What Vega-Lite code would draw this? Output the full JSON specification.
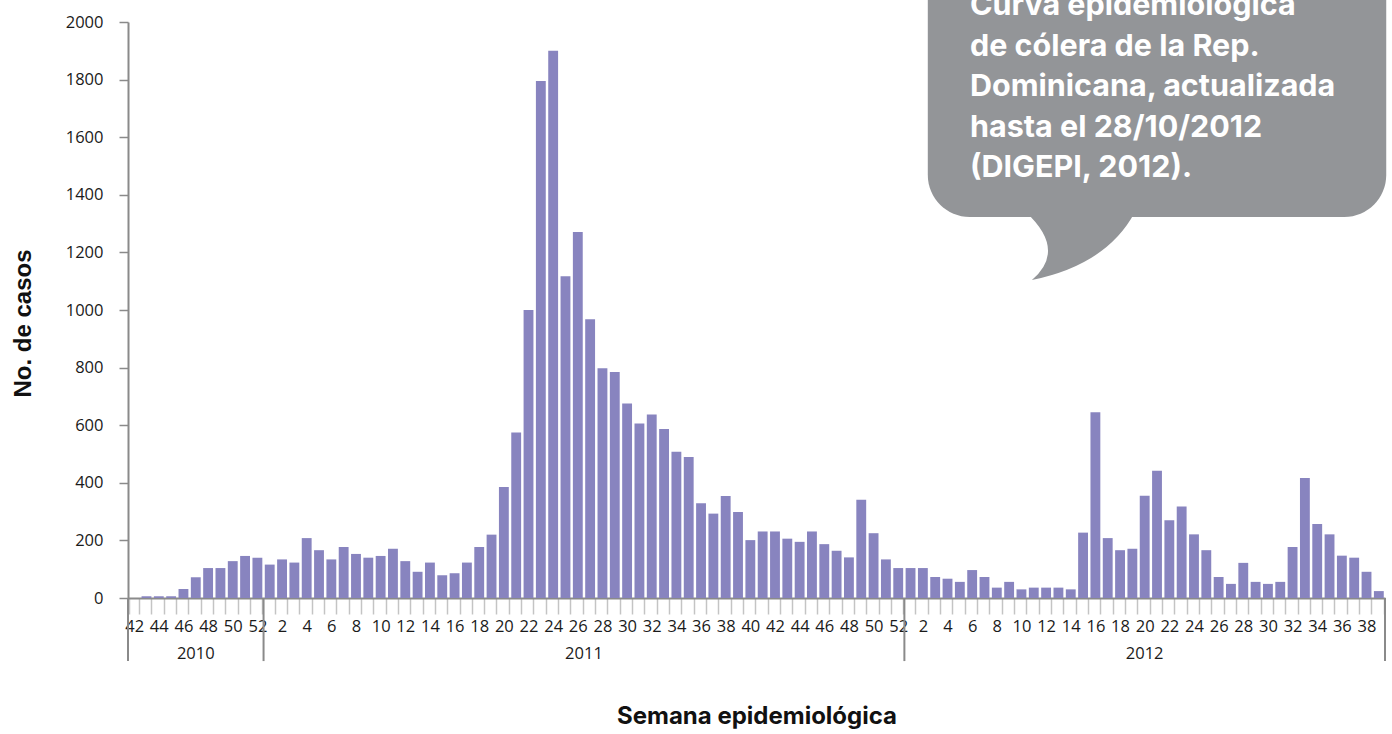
{
  "$schema": "https://vega.github.io/schema/vega-lite/v6.json",
  "width": 1257,
  "height": 576,
  "autosize": "none",
  "padding": {"left": 128, "top": 22, "right": 7, "bottom": 136},
  "background": "white",
  "config": {"view": {"stroke": null}},
  "datasets": {
    "casos": [
      {"id": "2010-42", "casos": 0}, {"id": "2010-43", "casos": 6}, {"id": "2010-44", "casos": 6}, {"id": "2010-45", "casos": 6},
      {"id": "2010-46", "casos": 31}, {"id": "2010-47", "casos": 72}, {"id": "2010-48", "casos": 104}, {"id": "2010-49", "casos": 104},
      {"id": "2010-50", "casos": 128}, {"id": "2010-51", "casos": 146}, {"id": "2010-52", "casos": 140},
      {"id": "2011-1", "casos": 116}, {"id": "2011-2", "casos": 134}, {"id": "2011-3", "casos": 123}, {"id": "2011-4", "casos": 208},
      {"id": "2011-5", "casos": 166}, {"id": "2011-6", "casos": 134}, {"id": "2011-7", "casos": 177}, {"id": "2011-8", "casos": 153},
      {"id": "2011-9", "casos": 140}, {"id": "2011-10", "casos": 146}, {"id": "2011-11", "casos": 171}, {"id": "2011-12", "casos": 128},
      {"id": "2011-13", "casos": 91}, {"id": "2011-14", "casos": 123}, {"id": "2011-15", "casos": 79}, {"id": "2011-16", "casos": 86},
      {"id": "2011-17", "casos": 123}, {"id": "2011-18", "casos": 177}, {"id": "2011-19", "casos": 220}, {"id": "2011-20", "casos": 385},
      {"id": "2011-21", "casos": 575}, {"id": "2011-22", "casos": 1000}, {"id": "2011-23", "casos": 1795}, {"id": "2011-24", "casos": 1900},
      {"id": "2011-25", "casos": 1117}, {"id": "2011-26", "casos": 1271}, {"id": "2011-27", "casos": 968}, {"id": "2011-28", "casos": 798},
      {"id": "2011-29", "casos": 785}, {"id": "2011-30", "casos": 675}, {"id": "2011-31", "casos": 606}, {"id": "2011-32", "casos": 637},
      {"id": "2011-33", "casos": 587}, {"id": "2011-34", "casos": 508}, {"id": "2011-35", "casos": 490}, {"id": "2011-36", "casos": 329},
      {"id": "2011-37", "casos": 293}, {"id": "2011-38", "casos": 354}, {"id": "2011-39", "casos": 299}, {"id": "2011-40", "casos": 201},
      {"id": "2011-41", "casos": 231}, {"id": "2011-42", "casos": 231}, {"id": "2011-43", "casos": 206}, {"id": "2011-44", "casos": 195},
      {"id": "2011-45", "casos": 231}, {"id": "2011-46", "casos": 187}, {"id": "2011-47", "casos": 164}, {"id": "2011-48", "casos": 141},
      {"id": "2011-49", "casos": 341}, {"id": "2011-50", "casos": 225}, {"id": "2011-51", "casos": 134}, {"id": "2011-52", "casos": 104},
      {"id": "2012-1", "casos": 104}, {"id": "2012-2", "casos": 104}, {"id": "2012-3", "casos": 73}, {"id": "2012-4", "casos": 67},
      {"id": "2012-5", "casos": 56}, {"id": "2012-6", "casos": 97}, {"id": "2012-7", "casos": 73}, {"id": "2012-8", "casos": 36},
      {"id": "2012-9", "casos": 56}, {"id": "2012-10", "casos": 30}, {"id": "2012-11", "casos": 36}, {"id": "2012-12", "casos": 36},
      {"id": "2012-13", "casos": 36}, {"id": "2012-14", "casos": 30}, {"id": "2012-15", "casos": 227}, {"id": "2012-16", "casos": 645},
      {"id": "2012-17", "casos": 208}, {"id": "2012-18", "casos": 166}, {"id": "2012-19", "casos": 171}, {"id": "2012-20", "casos": 355},
      {"id": "2012-21", "casos": 442}, {"id": "2012-22", "casos": 270}, {"id": "2012-23", "casos": 318}, {"id": "2012-24", "casos": 221},
      {"id": "2012-25", "casos": 166}, {"id": "2012-26", "casos": 73}, {"id": "2012-27", "casos": 49}, {"id": "2012-28", "casos": 122},
      {"id": "2012-29", "casos": 56}, {"id": "2012-30", "casos": 49}, {"id": "2012-31", "casos": 56}, {"id": "2012-32", "casos": 177},
      {"id": "2012-33", "casos": 417}, {"id": "2012-34", "casos": 257}, {"id": "2012-35", "casos": 221}, {"id": "2012-36", "casos": 147},
      {"id": "2012-37", "casos": 140}, {"id": "2012-38", "casos": 91}, {"id": "2012-39", "casos": 24}
    ],
    "separadores": [
      {"pos": 0, "y1": 0, "y2": -219},
      {"pos": 11, "y1": 0, "y2": -219},
      {"pos": 63, "y1": 0, "y2": -219},
      {"pos": 102, "y1": 0, "y2": -219}
    ],
    "anios": [
      {"pos": 5.5, "y": -193, "anio": "2010"},
      {"pos": 37, "y": -193, "anio": "2011"},
      {"pos": 82.5, "y": -193, "anio": "2012"}
    ],
    "burbuja": [
      {"x1": 64.9, "x2": 102.1, "y1": 2300, "y2": 1323}
    ],
    "cola": [
      {"pos": 73.35, "y": 1104}
    ],
    "nota": [
      {"pos": 68.32, "y": 2024, "texto": "Curva epidemiológica\nde cólera de la Rep.\nDominicana, actualizada\nhasta el 28/10/2012\n(DIGEPI, 2012)."}
    ]
  },
  "layer": [
    {
      "data": {"name": "casos"},
      "mark": {"type": "bar", "color": "#8884bf"},
      "encoding": {
        "x": {
          "field": "id",
          "type": "ordinal",
          "sort": null,
          "scale": {"paddingInner": 0.2, "paddingOuter": 0.1},
          "axis": {
            "title": "Semana epidemiológica",
            "titleFont": "Inter",
            "titleFontWeight": "bold",
            "titleFontSize": 24,
            "titleColor": "#111111",
            "titleBaseline": "alphabetic",
            "titleY": 125,
            "labelExpr": "toNumber(split(datum.value, '-')[1]) % 2 == 0 ? split(datum.value, '-')[1] : ''",
            "labelAngle": 0,
            "labelFont": "Open Sans",
            "labelFontSize": 16.5,
            "labelColor": "#1a1a1a",
            "labelPadding": 4,
            "labelOverlap": false,
            "tickBand": "extent",
            "tickColor": "#c4c4c4",
            "tickWidth": 1.5,
            "tickSize": 16,
            "domainColor": "#8a8a8a",
            "domainWidth": 2
          }
        },
        "y": {
          "field": "casos",
          "type": "quantitative",
          "scale": {"domain": [0, 2000], "nice": false},
          "axis": {
            "title": "No. de casos",
            "titleFont": "Liberation Sans",
            "titleFontWeight": "bold",
            "titleFontSize": 24,
            "titleColor": "#111111",
            "titleAngle": -90,
            "titleAlign": "center",
            "titleBaseline": "alphabetic",
            "titleX": -98,
            "titleY": 301,
            "values": [0, 200, 400, 600, 800, 1000, 1200, 1400, 1600, 1800, 2000],
            "format": "d",
            "grid": false,
            "labelFont": "Open Sans",
            "labelFontSize": 16.5,
            "labelColor": "#1a1a1a",
            "labelPadding": 16,
            "tickColor": "#8a8a8a",
            "tickWidth": 1.5,
            "tickSize": 9,
            "domainColor": "#8a8a8a",
            "domainWidth": 2
          }
        }
      }
    },
    {
      "data": {"name": "separadores"},
      "mark": {"type": "rule", "color": "#8a8a8a", "strokeWidth": 2},
      "encoding": {
        "x": {"field": "pos", "type": "quantitative", "scale": {"domain": [0, 102], "nice": false, "zero": false}, "axis": null},
        "y": {"field": "y1", "type": "quantitative", "scale": {"domain": [0, 2000], "nice": false}, "axis": null},
        "y2": {"field": "y2"}
      }
    },
    {
      "data": {"name": "anios"},
      "mark": {"type": "text", "font": "Open Sans", "fontSize": 16.5, "color": "#1a1a1a", "baseline": "middle", "align": "center"},
      "encoding": {
        "x": {"field": "pos", "type": "quantitative", "scale": {"domain": [0, 102], "nice": false, "zero": false}, "axis": null},
        "y": {"field": "y", "type": "quantitative", "scale": {"domain": [0, 2000], "nice": false}, "axis": null},
        "text": {"field": "anio"}
      }
    },
    {
      "data": {"name": "burbuja"},
      "mark": {"type": "rect", "color": "#939598", "cornerRadius": 42},
      "encoding": {
        "x": {"field": "x1", "type": "quantitative", "scale": {"domain": [0, 102], "nice": false, "zero": false}, "axis": null},
        "x2": {"field": "x2"},
        "y": {"field": "y1", "type": "quantitative", "scale": {"domain": [0, 2000], "nice": false}, "axis": null},
        "y2": {"field": "y2"}
      }
    },
    {
      "data": {"name": "cola"},
      "mark": {
        "type": "point",
        "filled": true,
        "color": "#939598",
        "opacity": 1,
        "strokeWidth": 0,
        "size": 42436,
        "shape": "M -0.06 -0.66 L 1 -0.66 Q 0.73 -0.15 0 0 Q 0.34 -0.29 -0.06 -0.66 Z"
      },
      "encoding": {
        "x": {"field": "pos", "type": "quantitative", "scale": {"domain": [0, 102], "nice": false, "zero": false}, "axis": null},
        "y": {"field": "y", "type": "quantitative", "scale": {"domain": [0, 2000], "nice": false}, "axis": null}
      }
    },
    {
      "data": {"name": "nota"},
      "mark": {
        "type": "text",
        "font": "Inter",
        "fontWeight": "bold",
        "fontSize": 30.5,
        "color": "white",
        "align": "left",
        "baseline": "alphabetic",
        "lineBreak": "\n",
        "lineHeight": 40.5
      },
      "encoding": {
        "x": {"field": "pos", "type": "quantitative", "scale": {"domain": [0, 102], "nice": false, "zero": false}, "axis": null},
        "y": {"field": "y", "type": "quantitative", "scale": {"domain": [0, 2000], "nice": false}, "axis": null},
        "text": {"field": "texto"}
      }
    }
  ],
  "resolve": {"scale": {"x": "independent", "y": "independent"}, "axis": {"x": "independent", "y": "independent"}}
}
